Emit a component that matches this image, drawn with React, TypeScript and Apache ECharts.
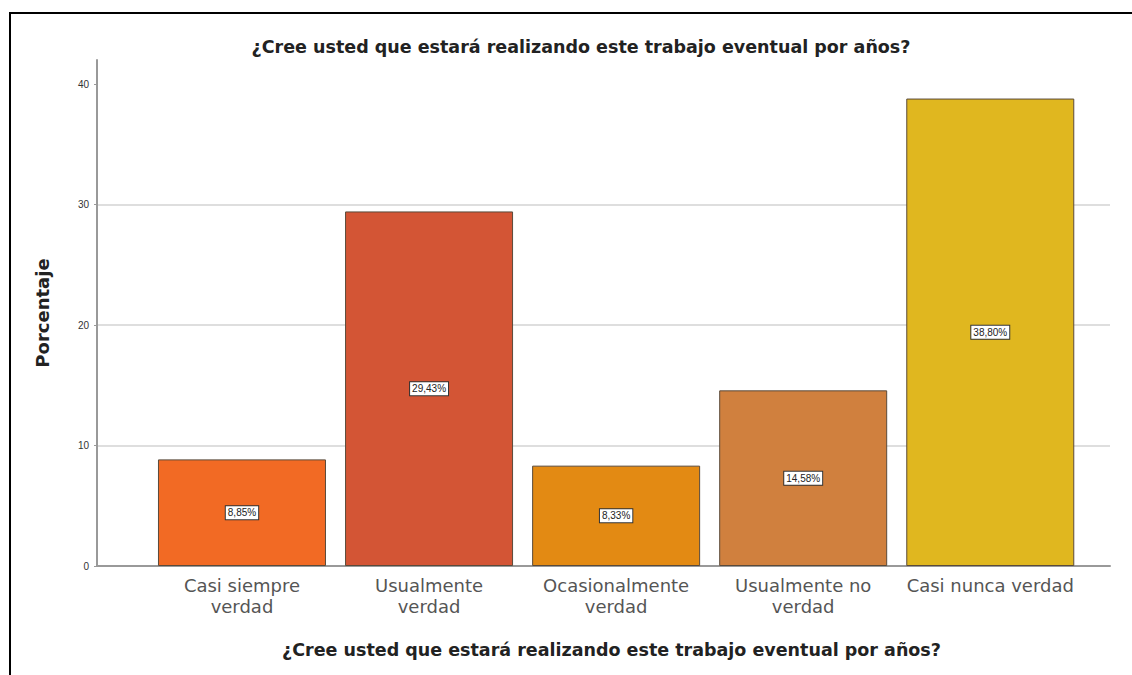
import React, { useEffect, useRef } from "react";
import * as echarts from "echarts";

const title = "¿Cree usted que estará realizando este trabajo eventual por años?";
const categories = [
  "Casi siempre\nverdad",
  "Usualmente\nverdad",
  "Ocasionalmente\nverdad",
  "Usualmente no\nverdad",
  "Casi nunca verdad",
];
const values = [8.85, 29.43, 8.33, 14.58, 38.8];
const colors = ["#F26A24", "#D35535", "#E38A13", "#D0803E", "#E0B71F"];
const yTicks = [0, 10, 20, 30, 40];

const FONT = "'DejaVu Sans', Verdana, sans-serif";
const SMALL = "'Liberation Sans', Arial, sans-serif";

export default function App() {
  const ref = useRef<HTMLDivElement>(null);
  useEffect(() => {
    if (!ref.current) return;
    const chart = echarts.init(ref.current, null, { renderer: "svg" });
    chart.setOption({
      animation: false,
      backgroundColor: "#ffffff",
      textStyle: { fontFamily: FONT },
      title: {
        text: title,
        left: 576,
        textAlign: "center",
        top: 33,
        textStyle: { fontSize: 17.5, fontWeight: "bold", color: "#222", fontFamily: FONT },
      },
      grid: { left: 97, right: 22, top: 60, bottom: 109, containLabel: false },
      xAxis: {
        type: "value",
        min: -0.775,
        max: 4.64,
        name: title,
        nameLocation: "middle",
        nameGap: 75,
        nameTextStyle: {
          fontSize: 17.5,
          fontWeight: "bold",
          color: "#222",
          fontFamily: FONT,
          padding: [0, 0, 0, 16],
        },
        axisLine: { show: true, onZero: false, lineStyle: { color: "#999", width: 2 } },
        axisTick: { show: false },
        splitLine: { show: false },
        axisLabel: {
          customValues: [0, 1, 2, 3, 4],
          formatter: (v: number) => categories[Math.round(v)] ?? "",
          fontSize: 18,
          color: "#555",
          lineHeight: 21,
          margin: 9,
          fontFamily: FONT,
        },
      },
      yAxis: {
        type: "value",
        min: 0,
        max: 42,
        interval: 10,
        name: "Porcentaje",
        nameLocation: "middle",
        nameGap: 46,
        nameTextStyle: { fontSize: 18, fontWeight: "bold", color: "#222", fontFamily: FONT },
        axisLine: { show: true, onZero: false, lineStyle: { color: "#999", width: 2 } },
        axisTick: { show: true, length: 3, customValues: yTicks, lineStyle: { color: "#999" } },
        axisLabel: {
          customValues: yTicks,
          fontSize: 10,
          color: "#333",
          margin: 8,
          fontFamily: SMALL,
        },
        splitLine: { show: true, showMaxLine: false, showMinLine: false, lineStyle: { color: "#DEDEDE", width: 2 } },
      },
      series: [
        {
          type: "bar",
          barWidth: 168,
          data: values.map((v, i) => ({
            value: [i, v],
            itemStyle: { color: colors[i], borderColor: "#5a4a3a", borderWidth: 1 },
          })),
          label: {
            show: true,
            position: "inside",
            formatter: (p: any) => p.value[1].toFixed(2).replace(".", ",") + "%",
            fontSize: 10,
            color: "#222",
            backgroundColor: "#ffffff",
            borderColor: "#333",
            borderWidth: 1,
            padding: [2, 2, 1, 2],
            fontFamily: SMALL,
          },
        },
      ],
      graphic: [
        { type: "line", shape: { x1: 9, y1: 13, x2: 1132, y2: 13 }, style: { stroke: "#000", lineWidth: 2 } },
        { type: "line", shape: { x1: 10, y1: 12, x2: 10, y2: 675 }, style: { stroke: "#000", lineWidth: 2 } },
      ],
    });
    return () => chart.dispose();
  }, []);
  return (
    <div
      ref={ref}
      style={{ position: "absolute", left: 0, top: 0, width: 1132, height: 675 }}
    />
  );
}
